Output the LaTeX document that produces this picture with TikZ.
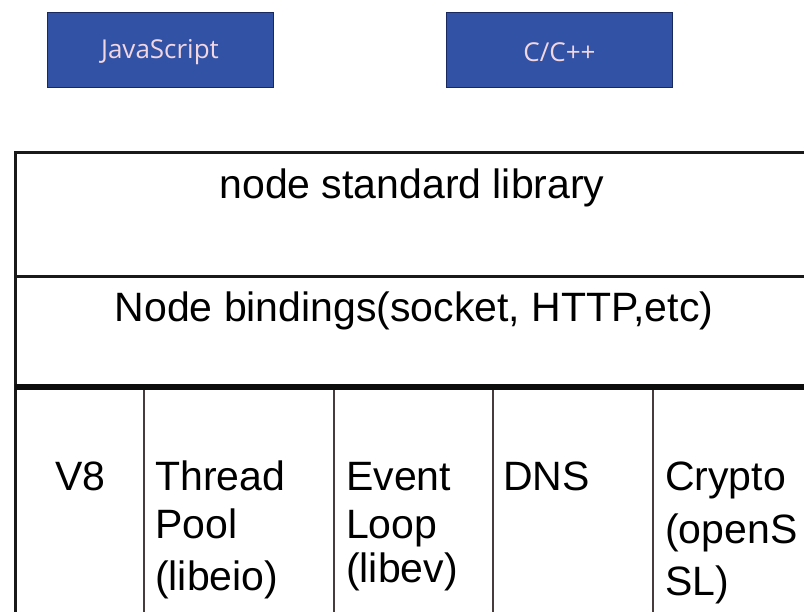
\documentclass[tikz,border=0pt]{standalone}
\usepackage{fontspec}
\setmainfont{Liberation Sans}
\newfontfamily\boxfont{Open Sans}
\definecolor{boxblue}{RGB}{50,82,166}
\definecolor{boxedge}{RGB}{25,40,95}
\definecolor{boxtext}{RGB}{242,214,224}
\definecolor{sepline}{RGB}{70,60,60}
\tikzset{
  bluebox/.style={draw=boxedge, line width=0.8pt, fill=boxblue, minimum width=226pt, minimum height=75pt,
    inner sep=0pt},
  boxlbl/.style={inner sep=0pt, text=boxtext, font=\boxfont\fontsize{26}{30}\selectfont},
  lbl/.style={inner sep=0pt, font=\fontsize{41}{48}\selectfont, text=black},
  frame/.style={line width=3pt, draw=black!90},
  heavy/.style={line width=6pt, draw=black!95},
  colsep/.style={line width=1.6pt, draw=sepline}
}
\begin{document}
\begin{tikzpicture}[x=1pt,y=-1pt]
\useasboundingbox (0,0) rectangle (804,612);
\clip (0,0) rectangle (804,612);
\fill[white] (0,0) rectangle (804,612);

% language boxes
\node[bluebox] (js) at (160,49.5) {};
\node[bluebox] (cpp) at (559.5,49.5) {};
\node[boxlbl] (jst) at ([yshift=-3pt]js.center) {JavaScript};
\node[boxlbl] (cppt) at ([yshift=-3pt]cpp.center) {C/C++};

% table frame
\coordinate (tl) at (15,153);
\coordinate (tr) at (820,153);
\coordinate (bl) at (15,640);
\coordinate (ml) at (15,277);
\coordinate (mr) at (820,277);
\coordinate (hl) at (15,387);
\coordinate (hr) at (820,387);
\draw[frame] (bl) -- (tl) -- (tr);
\draw[frame] (ml) -- (mr);
\foreach \x/\n in {144/a,334/b,493/c,653/d}{
  \coordinate (c\n t) at (\x,387);
  \coordinate (c\n b) at (\x,640);
  \draw[colsep] (c\n t) -- (c\n b);
}
\draw[heavy] (hl) -- (hr);

% row labels
\node[lbl, anchor=base] (std) at (412,199) {node standard library};
\node[lbl, anchor=base] (bind) at (414,322) {Node bindings(socket, HTTP,etc)};

% bottom cells
\node[lbl, anchor=base west] (v8) at (55,490) {V8};
\node[lbl, anchor=base west] (tp1) at (155,490) {Thread};
\node[lbl, anchor=base west] (tp2) at (155,538) {Pool};
\node[lbl, anchor=base west] (tp3) at (155,590) {(libeio)};
\node[lbl, anchor=base west] (el1) at (346,490) {Event};
\node[lbl, anchor=base west] (el2) at (346,538) {Loop};
\node[lbl, anchor=base west] (el3) at (346,582) {(libev)};
\node[lbl, anchor=base west] (dns) at (503,490) {DNS};
\node[lbl, anchor=base west] (cr1) at (665,490) {Crypto};
\node[lbl, anchor=base west] (cr2) at (665,543) {(openS};
\node[lbl, anchor=base west] (cr3) at (665,595) {SL)};
\end{tikzpicture}
\end{document}
